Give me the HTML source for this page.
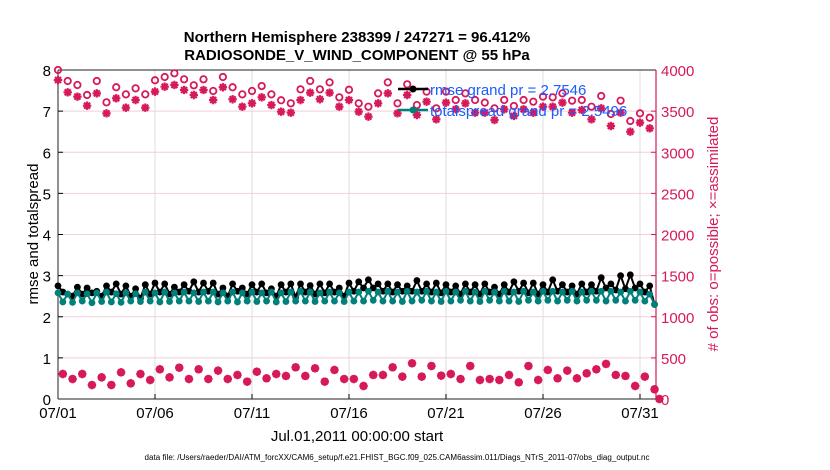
<!DOCTYPE html>
<html><head><meta charset="utf-8"><style>
body{margin:0;background:#fff;}
svg{display:block;font-family:"Liberation Sans",sans-serif;}
</style></head><body>
<svg id="chart" width="830" height="470" viewBox="0 0 830 470" xmlns="http://www.w3.org/2000/svg">
<text x="357" y="42" text-anchor="middle" font-size="15" font-weight="bold">Northern Hemisphere 238399 / 247271 = 96.412%</text>
<text x="357" y="60" text-anchor="middle" font-size="15" font-weight="bold">RADIOSONDE_V_WIND_COMPONENT @ 55 hPa</text>
<g id="grid"></g>
<g id="axes"></g>
<g id="marks"></g>
<text transform="translate(38,234) rotate(-90)" text-anchor="middle" font-size="15">rmse and totalspread</text>
<text transform="translate(718,234) rotate(-90)" text-anchor="middle" font-size="15" fill="#d6195b"># of obs: o=possible; ×=assimilated</text>
<text x="357" y="441" text-anchor="middle" font-size="15">Jul.01,2011 00:00:00 start</text>
<text x="397" y="460" text-anchor="middle" font-size="8" textLength="505">data file: /Users/raeder/DAI/ATM_forcXX/CAM6_setup/f.e21.FHIST_BGC.f09_025.CAM6assim.011/Diags_NTrS_2011-07/obs_diag_output.nc</text>
<g>
<line x1="398" y1="89" x2="428" y2="89" stroke="#000" stroke-width="2.5"/><circle cx="413" cy="89" r="3.5" fill="#000"/>
<text x="430" y="95" font-size="15" fill="#1a5cff">rmse grand pr = 2.7546</text>
<line x1="398" y1="110" x2="428" y2="110" stroke="#00807a" stroke-width="2.5"/><circle cx="413" cy="110" r="3.5" fill="#00807a"/>
<text x="430" y="116" font-size="15" fill="#1a5cff">totalspread grand pr = 2.5496</text>
</g>
</svg>
<script>
const xTickLabels=["07/01","07/06","07/11","07/16","07/21","07/26","07/31"];
const xTickDays=[0,5,10,15,20,25,30];
const leftTicks=[0,1,2,3,4,5,6,7,8];
const rightTicks=[0,500,1000,1500,2000,2500,3000,3500,4000];
// obs counts at 00Z/12Z (every 12h starting day 0)
const possibleMain=[4000,3866,3818,3696,3866,3607,3790,3704,3777,3704,3875,3915,3960,3887,3814,3887,3745,3915,3790,3704,3745,3805,3704,3632,3595,3765,3866,3765,3850,3668,3760,3595,
3554,3716,3850,3595,3826,3574,3737,3534,3737,3635,3716,3635,3603,3534,3635,3562,3635,3615,3676,3668,3716,3627,3635,3554,3684,3465,3627,3380,3473,3420,0];
const assimMain=[3878,3729,3676,3566,3716,3473,3656,3542,3635,3542,3737,3797,3818,3757,3696,3757,3635,3790,3644,3554,3595,3668,3574,3493,3481,3635,3724,3644,3724,3554,3635,3493,
3433,3595,3716,3473,3696,3453,3615,3400,3603,3522,3595,3481,3481,3392,3522,3441,3522,3481,3554,3554,3603,3481,3514,3400,3534,3319,3481,3250,3360,3291,0];
// obs counts at 06Z/18Z
const possibleOff=[304,243,304,170,263,170,324,190,304,231,361,263,381,243,361,243,345,243,292,211,332,251,304,280,385,280,373,211,353,243,243,158,
292,292,385,272,434,272,401,284,304,243,401,231,243,231,292,203,401,231,353,251,345,251,312,361,426,292,280,158,272,118];
const assimOff=possibleOff.slice();
// rmse and spread every 6h
const rmse=[2.75,2.6,2.55,2.5,2.72,2.55,2.7,2.58,2.62,2.5,2.75,2.6,2.8,2.55,2.75,2.5,2.68,2.45,2.78,2.55,2.82,2.6,2.8,2.55,2.72,2.6,2.78,2.62,2.85,2.6,2.82,2.62,2.82,2.55,2.7,2.5,2.8,2.62,2.7,2.55,
2.78,2.6,2.8,2.58,2.68,2.5,2.78,2.6,2.8,2.48,2.8,2.6,2.76,2.55,2.8,2.58,2.8,2.6,2.7,2.5,2.82,2.62,2.85,2.7,2.9,2.7,2.8,2.62,2.8,2.6,2.78,2.62,2.75,2.62,2.88,2.62,2.8,2.6,2.82,2.58,
2.78,2.6,2.75,2.55,2.8,2.6,2.78,2.55,2.8,2.6,2.72,2.55,2.78,2.6,2.85,2.62,2.82,2.58,2.82,2.55,2.78,2.6,2.9,2.62,2.78,2.6,2.75,2.55,2.8,2.6,2.78,2.62,2.95,2.7,2.8,2.65,3.0,2.68,3.02,2.7,2.8,2.6,2.75,2.3];
const spread=[2.58,2.36,2.55,2.35,2.58,2.38,2.56,2.34,2.58,2.37,2.6,2.36,2.56,2.35,2.58,2.38,2.56,2.37,2.6,2.38,2.58,2.36,2.6,2.37,2.58,2.38,2.6,2.38,2.58,2.37,2.6,2.38,2.6,2.36,2.58,2.38,2.6,2.36,2.58,2.38,
2.6,2.37,2.58,2.38,2.6,2.36,2.58,2.37,2.6,2.38,2.62,2.38,2.6,2.37,2.58,2.38,2.6,2.38,2.58,2.37,2.6,2.38,2.6,2.38,2.62,2.4,2.6,2.38,2.62,2.38,2.6,2.37,2.62,2.38,2.6,2.4,2.62,2.38,2.6,2.37,
2.62,2.38,2.6,2.4,2.62,2.38,2.6,2.37,2.62,2.4,2.6,2.38,2.62,2.38,2.6,2.37,2.62,2.4,2.6,2.38,2.62,2.4,2.62,2.38,2.6,2.4,2.62,2.38,2.6,2.4,2.62,2.4,2.62,2.38,2.62,2.4,2.6,2.38,2.62,2.4,2.6,2.38,2.55,2.3];

const X0=58,X1=656,Y0=399,Y1=70,DAY=19.4;
const xDay=d=>X0+d*DAY;
const yL=v=>Y0-(v/8)*(Y0-Y1);
const yR=v=>Y0-(v/4000)*(Y0-Y1);
const NS="http://www.w3.org/2000/svg";
function mk(tag,attrs,parent){const e=document.createElementNS(NS,tag);for(const k in attrs)e.setAttribute(k,attrs[k]);parent.appendChild(e);return e;}
const grid=document.getElementById('grid'),axes=document.getElementById('axes'),marks=document.getElementById('marks');
const RED="#d6195b";
leftTicks.forEach((t,i)=>{
  const y=yL(t);
  if(t>0&&t<8){const g=mk('line',{x1:X0,x2:X1,y1:y,y2:y,stroke:"#f2cfdc","stroke-width":1},grid);
  
  }
  mk('line',{x1:X0,x2:X0+5,y1:y,y2:y,stroke:"#000"},axes);
  const tx=mk('text',{x:X0-7,y:y+6,"text-anchor":"end","font-size":15},axes);tx.textContent=t;
  
  
  const r=rightTicks[i],yr=yR(r);
  mk('line',{x1:X1-5,x2:X1,y1:yr,y2:yr,stroke:RED},axes);
  const rt=mk('text',{x:X1+5,y:yr+6,"font-size":15,fill:RED},axes);rt.textContent=r;
  
  
});
xTickDays.forEach((d,i)=>{
  const x=xDay(d);
  if(d>0){const g=mk('line',{x1:x,x2:x,y1:Y1,y2:Y0,stroke:"#dcdcdc"},grid);
  
  }
  mk('line',{x1:x,x2:x,y1:Y0,y2:Y0-5,stroke:"#000"},axes);
  const tx=mk('text',{x:x,y:Y0+19,"text-anchor":"middle","font-size":15},axes);tx.textContent=xTickLabels[i];
  
  
});
mk('line',{x1:X0,x2:X1,y1:Y1,y2:Y1,stroke:"#222"},axes);
mk('line',{x1:X0,x2:X1,y1:Y0,y2:Y0,stroke:"#222"},axes);
mk('line',{x1:X0,x2:X0,y1:Y1,y2:Y0,stroke:"#222"},axes);
mk('line',{x1:X1,x2:X1,y1:Y1,y2:Y0,stroke:RED,"stroke-width":1.2},axes);

function circle(x,y,parent,name){const c=mk('circle',{cx:x,cy:y,r:3.2,fill:"none",stroke:RED,"stroke-width":1.8},parent);
  
  }
function star(x,y,parent,name){const g=mk('g',{},parent);
  
  
  const s=4.2,p=`M${x-s},${y}L${x+s},${y}M${x},${y-s}L${x},${y+s}M${x-3},${y-3}L${x+3},${y+3}M${x-3},${y+3}L${x+3},${y-3}`;
  mk('path',{d:p,stroke:RED,"stroke-width":2.2,fill:"none"},g);}
possibleMain.forEach((v,i)=>{const x=xDay(i*0.5);circle(x,yR(v),marks,'possible-obs-main');star(x,yR(assimMain[i]),marks,'assimilated-obs-main');});
possibleOff.forEach((v,i)=>{const x=xDay(i*0.5+0.25);circle(x,yR(v),marks,'possible-obs-off');star(x,yR(assimOff[i]),marks,'assimilated-obs-off');});
function series(arr,color,name){
  const pts=arr.map((v,i)=>`${xDay(i*0.25).toFixed(1)},${yL(v).toFixed(1)}`).join(' ');
  const pl=mk('polyline',{points:pts,fill:"none",stroke:color,"stroke-width":2},marks);
  
  
  arr.forEach((v,i)=>{const c=mk('circle',{cx:xDay(i*0.25),cy:yL(v),r:3.4,fill:color},marks);
    
    });
}
series(rmse,"#000",'rmse');
series(spread,"#00807a",'totalspread');
</script>
</body></html>
